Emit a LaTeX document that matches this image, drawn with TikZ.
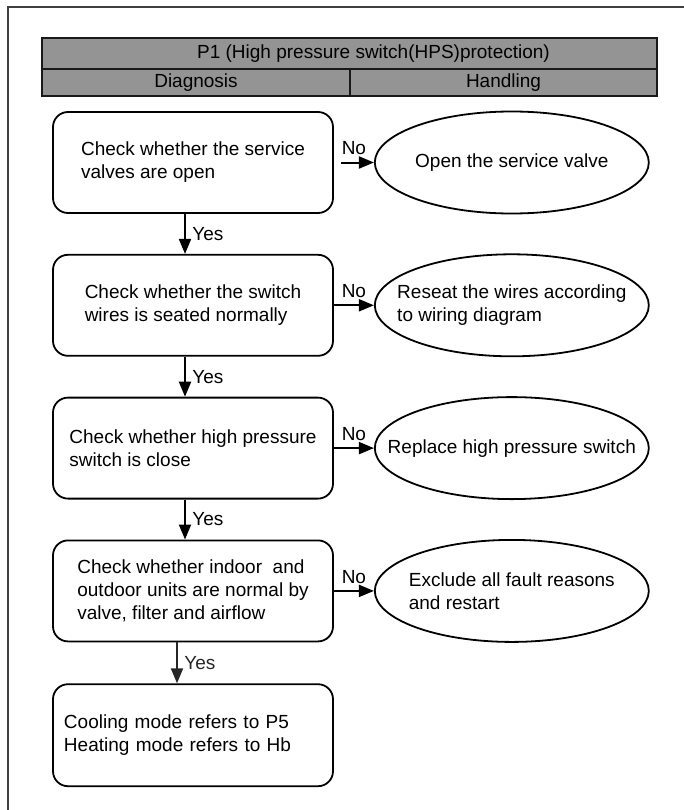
\documentclass[tikz,border=0pt]{standalone}
\usepackage{fontspec}
\setmainfont{Liberation Sans}
\usetikzlibrary{positioning,arrows.meta,shapes.geometric}

\begin{document}
\begin{tikzpicture}[x=1bp, y=-1bp, font=\fontsize{19bp}{23bp}\selectfont, node distance=40bp,
  cell/.style={draw=black!90, line width=2.5bp, fill=black!42, inner sep=0pt, outer sep=0pt},
  box/.style={draw, rounded corners=15bp, line width=1.8bp, align=left, minimum width=280bp, minimum height=101bp},
  oval/.style={draw, ellipse, line width=1.8bp, align=left, minimum width=274bp, minimum height=102bp, inner xsep=-36bp, inner ysep=0pt},
  arr/.style={-{Triangle[length=15bp, width=12bp]}, line width=2bp}]
\useasboundingbox (0,0) rectangle (684,810);
\draw[line width=1.3bp, black!75] (684,7) -- (8,7) -- (8,810);
\node[cell, minimum width=615bp, minimum height=31bp, label={[xshift=24bp]center:P1 (High pressure switch(HPS)protection)}] (title) at (349.5,53.5) {};
\node[cell, minimum width=308bp, minimum height=27bp, below right=0pt of title.south west] (diag) {Diagnosis};
\node[cell, minimum width=307bp, minimum height=27bp, right=0pt of diag] (hand) {Handling};
\node[box] (b1) at (193,162.5) {Check whether the service\\ valves are open};
\node[box, below=of b1] (b2) {Check whether the switch\\ wires is seated normally};
\node[box, below=of b2] (b3) {Check whether high pressure\\ switch is close};
\node[box, below=of b3] (b4) {Check whether indoor\ \ and\\ outdoor units are normal by\\ valve, filter and airflow};
\node[box, text width=258bp, minimum height=102bp, below=41bp of b4] (b5) {Cooling mode refers to P5\\ Heating mode refers to Hb};
\node[oval, right=of b1] (e1) {Open the service valve};
\node[oval, right=of b2] (e2) {Reseat the wires according\\ to wiring diagram};
\node[oval, right=of b3] (e3) {Replace high pressure switch};
\node[oval, right=of b4] (e4) {Exclude all fault reasons\\ and restart};
\draw[arr] ([xshift=-8bp]b1.south) -- node[right=3bp]{Yes} ([xshift=-8bp]b2.north);
\draw[arr] ([xshift=-8bp]b2.south) -- node[right=3bp]{Yes} ([xshift=-8bp]b3.north);
\draw[arr] ([xshift=-8bp]b3.south) -- node[right=3bp]{Yes} ([xshift=-8bp]b4.north);
\draw[arr, black!85] ([xshift=-16bp]b4.south) -- node[right=3bp]{Yes} ([xshift=-16bp]b5.north);
\draw[arr, shorten <=7bp] (b1) -- node[above=3bp]{No} (e1);
\draw[arr] (b2) -- node[above=3bp]{No} (e2);
\draw[arr] (b3) -- node[above=3bp]{No} (e3);
\draw[arr] (b4) -- node[above=3bp]{No} (e4);
\end{tikzpicture}
\end{document}
